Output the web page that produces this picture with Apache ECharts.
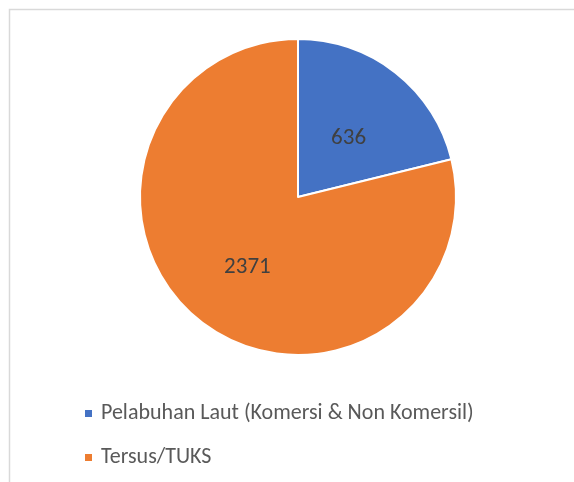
<!DOCTYPE html>
<html>
<head>
    <title>Pie</title>
    <script src="https://cdn.jsdelivr.net/npm/echarts@6/dist/echarts.min.js"></script>
    <style>
        body { margin: 0; background: #fff; }
        #chart { width: 574px; height: 482px; }
    </style>
</head>
<body>
    <div id="chart"></div>
    <script>
        var categories = ['Pelabuhan Laut (Komersi & Non Komersil)', 'Tersus/TUKS'];
        var values = [636, 2371];
        var colors = ['#4472C4', '#ED7D31'];
        var font = 'Carlito, Lato, "Open Sans", sans-serif';

        // one legend per row, stacked like the original
        function legendRow(name, top) {
            return {
                left: 83,
                top: top,
                padding: 0,
                icon: 'rect',
                itemWidth: 9,
                itemHeight: 9,
                textStyle: { fontFamily: font, fontSize: 22, color: '#595959', padding: [0, 0, 0, 3] },
                data: [name]
            };
        }

        var chart = echarts.init(document.getElementById('chart'));
        chart.setOption({
            animation: false,
            color: colors,
            graphic: [{
                type: 'rect',
                shape: { x: 9.5, y: 9.5, width: 620, height: 620 },
                style: { fill: 'none', stroke: '#d9d9d9', lineWidth: 1.5 },
                silent: true
            }],
            legend: [legendRow(categories[0], 397), legendRow(categories[1], 441)],
            series: [{
                type: 'pie',
                center: [298, 197],
                radius: 158,
                startAngle: 90,
                clockwise: true,
                itemStyle: { borderColor: '#fff', borderWidth: 2 },
                label: {
                    position: 'inside',
                    // empty first line nudges the value a little lower, as in the original
                    formatter: '{gap|}\n{v|{c}}',
                    rich: {
                        gap: { fontSize: 1, lineHeight: 12 },
                        v: { fontFamily: font, fontSize: 23, lineHeight: 23, color: '#404040' }
                    }
                },
                labelLine: { show: false },
                data: categories.map((c, i) => ({ name: c, value: values[i] }))
            }]
        });
    </script>
</body>
</html>
